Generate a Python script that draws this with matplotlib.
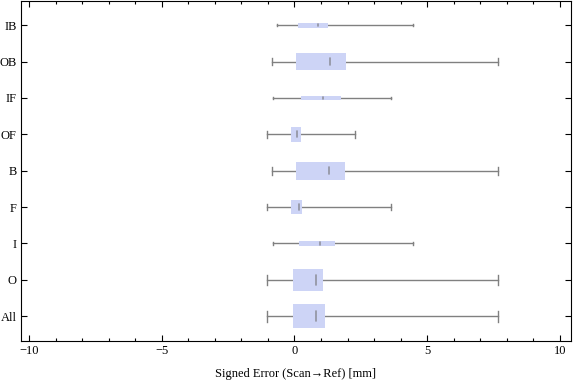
import matplotlib
matplotlib.use("Agg")
import matplotlib.pyplot as plt
from matplotlib.patches import Rectangle
from matplotlib.ticker import MultipleLocator

plt.rcParams['font.family'] = ['Liberation Serif', 'DejaVu Serif']

# bottom to top
labels = ["All", "O", "I", "F", "B", "OF", "IF", "OB", "IB"]
wlo = [-1.02, -1.02, -0.80, -1.02, -0.84, -1.02, -0.80, -0.84, -0.65]
q1 = [-0.06, -0.06, 0.18, -0.13, 0.06, -0.13, 0.24, 0.06, 0.14]
med = [0.82, 0.82, 0.95, 0.17, 1.30, 0.09, 1.06, 1.34, 0.87]
q3 = [1.15, 1.07, 1.53, 0.28, 1.90, 0.24, 1.74, 1.94, 1.25]
whi = [7.68, 7.68, 4.48, 3.62, 7.68, 2.27, 3.62, 7.68, 4.48]
bw = [0.65, 0.62, 0.16, 0.40, 0.49, 0.40, 0.11, 0.47, 0.14]

box_col = "#cdd4f6"
line_col = "#808080"

fig = plt.figure(figsize=(5.76, 3.81), dpi=100)
ax = fig.add_axes([0.036, 0.105, 0.955, 0.892])

for i in range(len(labels)):
    y = i + 1
    h = bw[i]
    ax.plot([wlo[i], q1[i]], [y, y], color=line_col, lw=1.0, zorder=1)
    ax.plot([q3[i], whi[i]], [y, y], color=line_col, lw=1.0, zorder=1)
    cap = h * 0.45
    for xc in (wlo[i], whi[i]):
        ax.plot([xc, xc], [y - cap / 2, y + cap / 2], color=line_col, lw=1.0, zorder=1)
    ax.add_patch(Rectangle((q1[i], y - h / 2), q3[i] - q1[i], h,
                           facecolor=box_col, edgecolor="none", zorder=2))
    mh = max(h * 0.42, 0.06)
    ax.plot([med[i], med[i]], [y - mh / 2, y + mh / 2], color="#707070",
            lw=1.2, alpha=0.65, zorder=3, solid_capstyle="round")

ax.set_xlim(-10.31, 10.41)
ax.set_ylim(0.32, 9.66)
ax.set_yticks(range(1, len(labels) + 1))
ax.set_yticklabels(labels)
ax.xaxis.set_major_locator(MultipleLocator(5))
ax.xaxis.set_minor_locator(MultipleLocator(1))
ax.tick_params(axis="both", which="both", direction="in", top=True, right=True,
               labelsize=9, width=0.8, pad=3)
ax.tick_params(axis="both", which="major", length=4.5)
ax.tick_params(axis="x", which="minor", length=2.5)
for s in ax.spines.values():
    s.set_linewidth(0.8)
ax.set_xlabel("Signed Error (Scan→Ref) [mm]", fontsize=9, labelpad=8)

fig.savefig("out.png", dpi=100)
